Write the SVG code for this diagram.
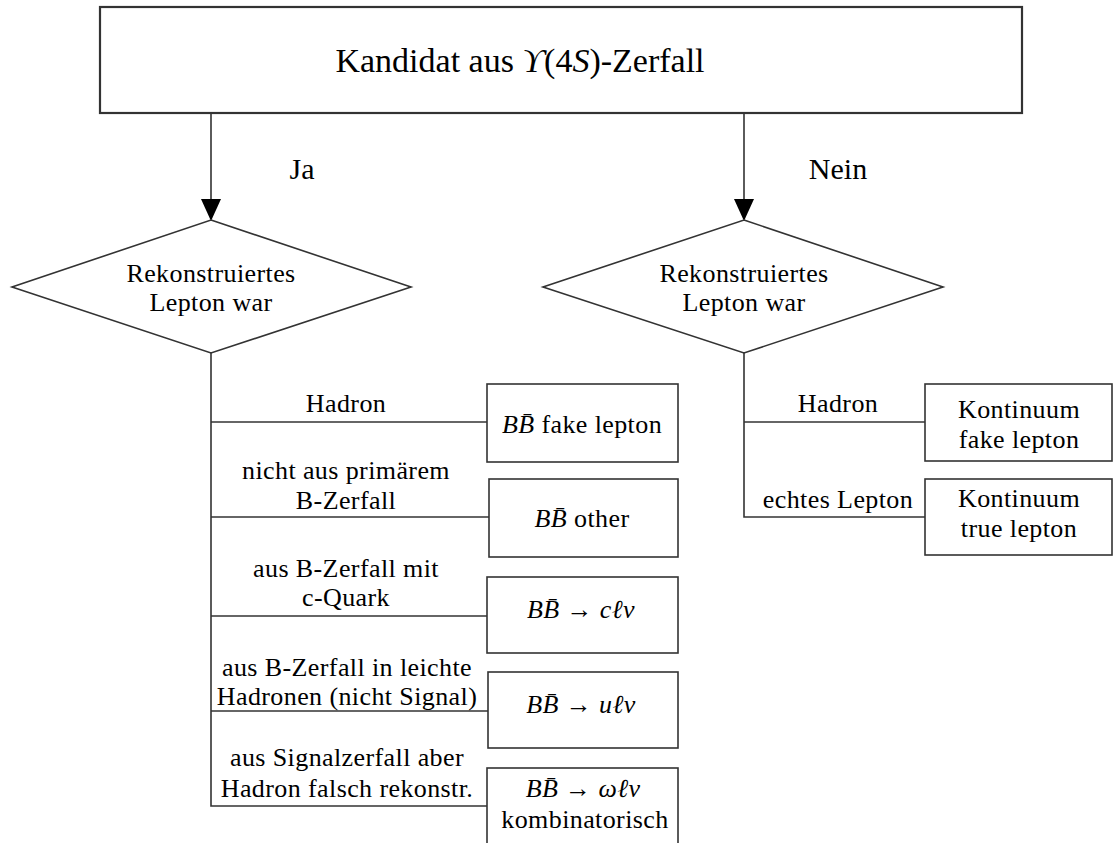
<svg xmlns="http://www.w3.org/2000/svg" width="1113" height="843" viewBox="0 0 1113 843">
<style>
  .box{fill:#fff;stroke:#333;stroke-width:1.6}
  .top{fill:#fff;stroke:#333;stroke-width:2.2}
  .ln{fill:none;stroke:#333;stroke-width:1.6}
  .ah{fill:#000;stroke:none}
  text{font-family:"Liberation Serif","DejaVu Serif",serif;fill:#000;font-size:26px;text-anchor:middle;letter-spacing:0.4px}
  .big{font-size:34px;letter-spacing:0}
  .yn{font-size:30px;letter-spacing:0}
  .m{font-style:italic}
</style>
<g id="connectors">
  <line class="ln" x1="211" y1="113" x2="211" y2="201"/>
  <polygon class="ah" points="201,199 221,199 211,221"/>
  <line class="ln" x1="744" y1="113" x2="744" y2="201"/>
  <polygon class="ah" points="734,199 754,199 744,221"/>
  <polyline class="ln" points="211,353 211,806 487,806"/>
  <line class="ln" x1="211" y1="422" x2="487" y2="422"/>
  <line class="ln" x1="211" y1="517" x2="489" y2="517"/>
  <line class="ln" x1="211" y1="616" x2="487" y2="616"/>
  <line class="ln" x1="211" y1="711" x2="488" y2="711"/>
  <polyline class="ln" points="744,353 744,517 925,517"/>
  <line class="ln" x1="744" y1="422" x2="925" y2="422"/>
  <text x="302" y="179" class="yn">Ja</text>
  <text x="838" y="179" class="yn">Nein</text>
  <text x="346" y="412">Hadron</text>
  <text x="346" y="479">nicht aus primärem</text>
  <text x="346" y="509">B-Zerfall</text>
  <text x="346" y="577">aus B-Zerfall mit</text>
  <text x="346" y="606">c-Quark</text>
  <text x="347" y="676">aus B-Zerfall in leichte</text>
  <text x="347" y="705">Hadronen (nicht Signal)</text>
  <text x="347" y="766">aus Signalzerfall aber</text>
  <text x="347" y="797">Hadron falsch rekonstr.</text>
  <text x="838" y="412">Hadron</text>
  <text x="838" y="508">echtes Lepton</text>
</g>
<g id="start">
  <rect class="top" x="100" y="7" width="922" height="106"/>
  <text x="520" y="72" class="big">Kandidat aus <tspan class="m">ϒ</tspan>(4<tspan class="m">S</tspan>)-Zerfall</text>
</g>
<g id="decision-ja">
  <polygon class="box" points="211,220 411,287 211,353 12,287"/>
  <text x="211" y="282">Rekonstruiertes</text>
  <text x="211" y="311">Lepton war</text>
</g>
<g id="decision-nein">
  <polygon class="box" points="744,220 943,287 744,353 543,287"/>
  <text x="744" y="282">Rekonstruiertes</text>
  <text x="744" y="311">Lepton war</text>
</g>
<g id="bb-fake">
  <rect class="box" x="487" y="384" width="191" height="78"/>
  <text x="582" y="433"><tspan class="m">BB̄</tspan> fake lepton</text>
</g>
<g id="bb-other">
  <rect class="box" x="489" y="479" width="189" height="78"/>
  <text x="582" y="527"><tspan class="m">BB̄</tspan> other</text>
</g>
<g id="bb-clnu">
  <rect class="box" x="487" y="577" width="191" height="76"/>
  <text x="581" y="618"><tspan class="m">BB̄</tspan> → <tspan class="m">cℓν</tspan></text>
</g>
<g id="bb-ulnu">
  <rect class="box" x="488" y="672" width="190" height="76"/>
  <text x="581" y="713"><tspan class="m">BB̄</tspan> → <tspan class="m">uℓν</tspan></text>
</g>
<g id="bb-omega">
  <rect class="box" x="487" y="768" width="191" height="100"/>
  <text x="583" y="797"><tspan class="m">BB̄</tspan> → <tspan class="m">ωℓν</tspan></text>
  <text x="585" y="828">kombinatorisch</text>
</g>
<g id="cont-fake">
  <rect class="box" x="925" y="384" width="187" height="77"/>
  <text x="1019" y="418">Kontinuum</text>
  <text x="1019" y="448">fake lepton</text>
</g>
<g id="cont-true">
  <rect class="box" x="925" y="479" width="187" height="76"/>
  <text x="1019" y="507">Kontinuum</text>
  <text x="1019" y="537">true lepton</text>
</g>
</svg>
